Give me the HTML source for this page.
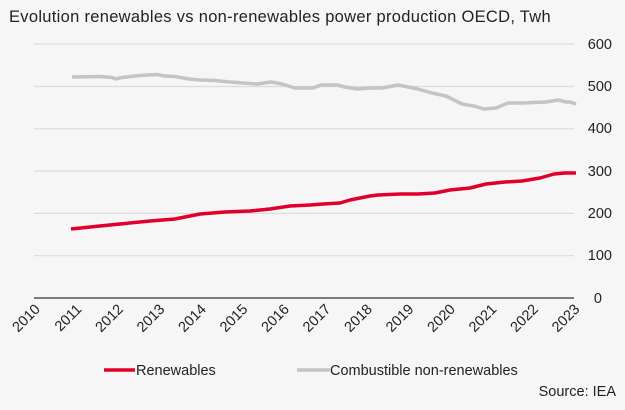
<!DOCTYPE html>
<html><head><meta charset="utf-8"><style>
body{margin:0;background:#f6f6f6;}
svg{display:block;font-family:"Liberation Sans",sans-serif;}
</style></head><body>
<svg width="625" height="410" viewBox="0 0 625 410" xmlns="http://www.w3.org/2000/svg">
<rect width="625" height="410" fill="#f6f6f6"/>
<text x="9" y="22" font-size="16.5" fill="#222" letter-spacing="0.3">Evolution renewables vs non-renewables power production OECD, Twh</text>
<g stroke="#dcdcdc" stroke-width="1.2">
<line x1="34" x2="574" y1="44" y2="44"/>
<line x1="34" x2="574" y1="86.5" y2="86.5"/>
<line x1="34" x2="574" y1="128.8" y2="128.8"/>
<line x1="34" x2="574" y1="171.1" y2="171.1"/>
<line x1="34" x2="574" y1="213.4" y2="213.4"/>
<line x1="34" x2="574" y1="255.7" y2="255.7"/>
</g>
<line x1="34" x2="574" y1="298" y2="298" stroke="#333" stroke-width="1.2"/>
<g font-size="14.5" fill="#222" text-anchor="end">
<text x="612" y="49">600</text><text x="612" y="91">500</text><text x="612" y="133">400</text>
<text x="612" y="176">300</text><text x="612" y="218">200</text><text x="612" y="260">100</text>
<text x="602" y="303">0</text>
</g>
<g font-size="14.5" fill="#222" text-anchor="end">
<text transform="translate(41,310) rotate(-45)">2010</text>
<text transform="translate(82.5,310) rotate(-45)">2011</text>
<text transform="translate(124,310) rotate(-45)">2012</text>
<text transform="translate(165.5,310) rotate(-45)">2013</text>
<text transform="translate(207,310) rotate(-45)">2014</text>
<text transform="translate(248.5,310) rotate(-45)">2015</text>
<text transform="translate(290,310) rotate(-45)">2016</text>
<text transform="translate(331.5,310) rotate(-45)">2017</text>
<text transform="translate(373,310) rotate(-45)">2018</text>
<text transform="translate(414.5,310) rotate(-45)">2019</text>
<text transform="translate(456,310) rotate(-45)">2020</text>
<text transform="translate(497.5,310) rotate(-45)">2021</text>
<text transform="translate(539,310) rotate(-45)">2022</text>
<text transform="translate(580.5,310) rotate(-45)">2023</text>
</g>
<polyline fill="none" stroke="#c4c4c4" stroke-width="3.5" stroke-linejoin="round" points="72,77 100,76.5 112,77.5 116,79 122,77.5 140,75.5 157,74.5 165,76 175,76.5 189,79 200,80 215,80.5 230,82 257,84 271,82 282,84 295,88 313,88 321,85 337,85 345,87 357,89 370,88 382,88 398,85 418,89 432,93 446,96 462,104 474,106 484,109 496,108 508,103 522,103 546,102 558,100 566,102 570,102 576,104"/>
<polyline fill="none" stroke="#e0002a" stroke-width="3.5" stroke-linejoin="round" points="71,229 100,226 120,224 150,221 175,219 200,214 225,212 250,211 270,209 290,206 310,205 323,204 340,203 350,200 370,196 378,195 400,194 418,194 435,193 450,190 470,188 486,184 505,182 522,181 540,178 554,174 565,173 576,173"/>
<line x1="104" x2="135" y1="370" y2="370" stroke="#e0002a" stroke-width="3.5"/>
<text x="136" y="375" font-size="14.5" fill="#222">Renewables</text>
<line x1="297" x2="330" y1="370" y2="370" stroke="#c4c4c4" stroke-width="3.5"/>
<text x="330" y="375" font-size="14.5" fill="#222">Combustible non-renewables</text>
<text x="616" y="396" font-size="14.5" fill="#222" text-anchor="end">Source: IEA</text>
</svg>
</body></html>
